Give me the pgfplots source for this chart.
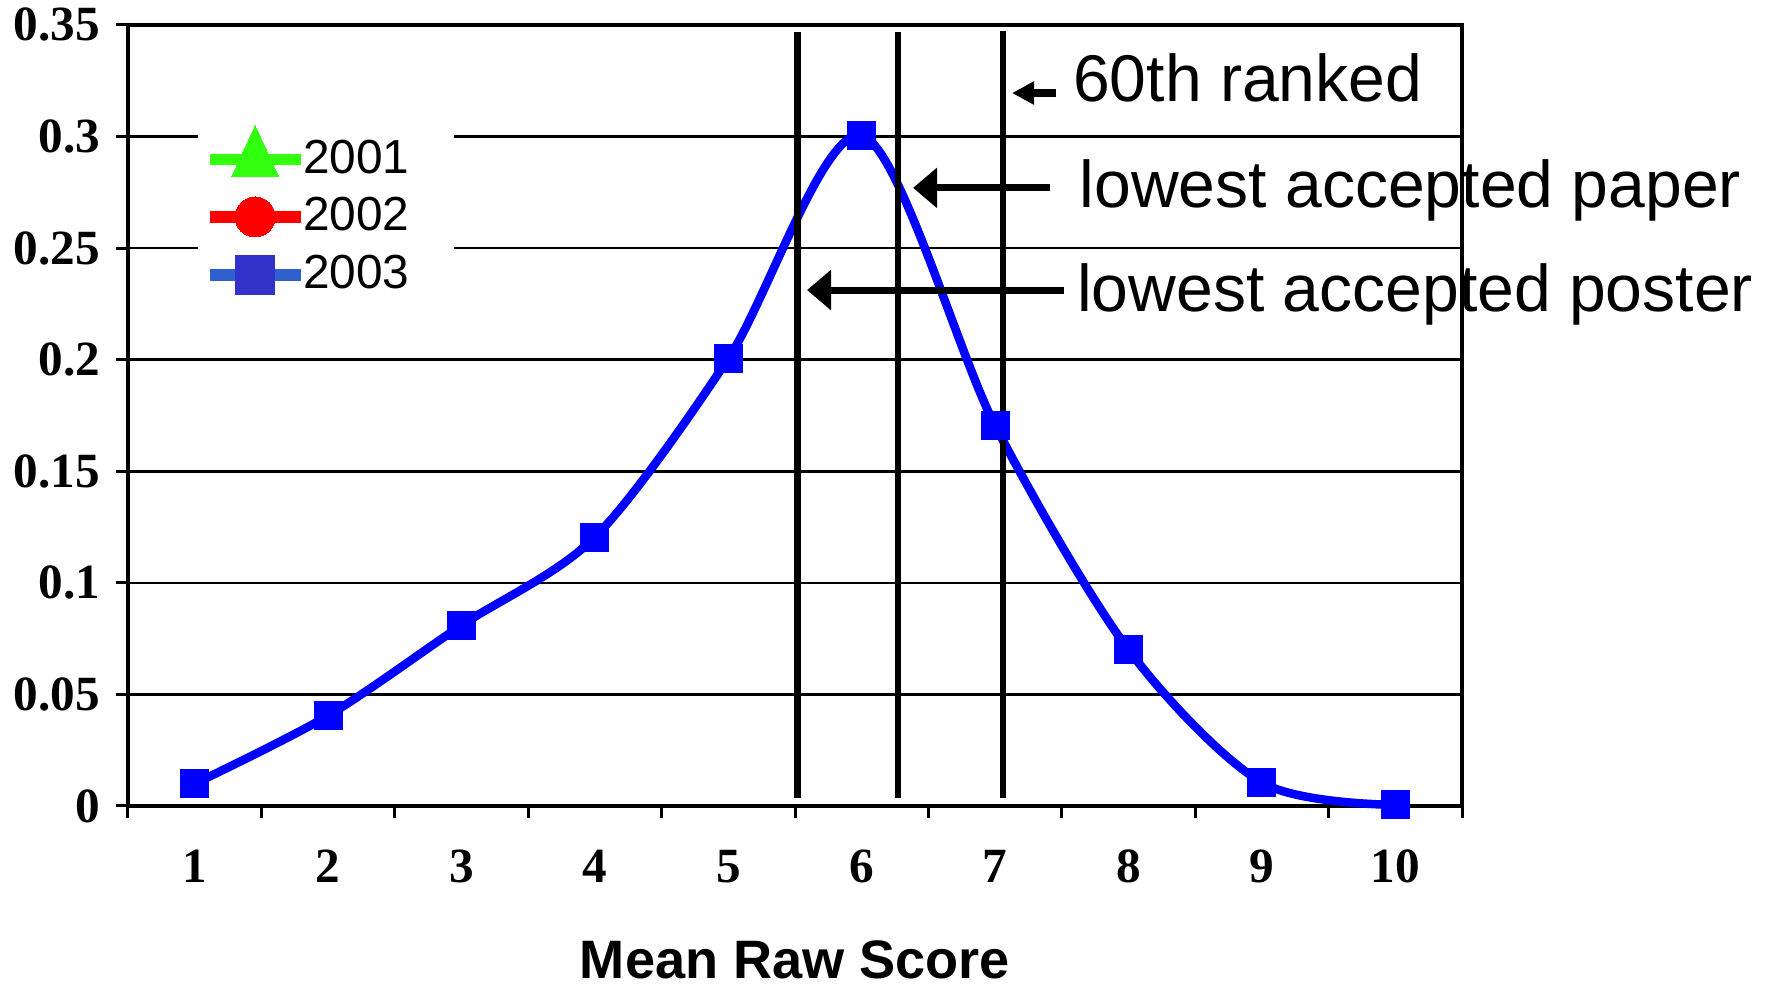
\documentclass[border=0pt]{standalone}
\usepackage{pgfplots}
\pgfplotsset{compat=1.18}
\usepackage{fontspec}
\setmainfont{Liberation Sans}
\newfontfamily\tickfont{Liberation Serif}
\usetikzlibrary{arrows.meta}
\definecolor{gA}{RGB}{51,255,17}
\definecolor{rB}{RGB}{255,0,0}
\definecolor{bline}{RGB}{48,96,208}
\definecolor{bmark}{RGB}{51,51,204}
\begin{document}
\begin{tikzpicture}
\begin{axis}[
  name=ax,
  scale only axis, width=133.4mm, height=78.1mm,
  xmin=0.5, xmax=10.5, ymin=0, ymax=0.35,
  xtick={1,2,3,4,5,6,7,8,9,10},
  xticklabels={1,2,3,4,5,6,7,8,9,10},
  minor xtick={0.5,1.5,2.5,3.5,4.5,5.5,6.5,7.5,8.5,9.5,10.5},
  ytick={0,0.05,0.1,0.15,0.2,0.25,0.3,0.35},
  yticklabels={0,0.05,0.1,0.15,0.2,0.25,0.3,0.35},
  xtick pos=bottom, ytick pos=left,
  tick align=outside, major tick length=1.2mm, minor tick length=1.2mm,
  major x tick style={draw=none},
  tick style={black, line width=0.3mm},
  ymajorgrids, grid style={black, line width=0.25mm},
  axis line style={line width=0.32mm},
  ticklabel style={font=\tickfont\bfseries\fontsize{14}{15}\selectfont},
  yticklabel style={xshift=-0.35mm},
  xticklabel style={anchor=base, yshift=-6.5mm},
  clip=false,
  xlabel={Mean Raw Score},
  xlabel style={font=\bfseries\fontsize{15.4}{16}\selectfont, at={(axis description cs:0.5,0)}, anchor=base, yshift=-17.3mm},
  legend style={at={(rel axis cs:0.0517,0.885)}, anchor=north west, fill=white, draw=none,
    font=\fontsize{13.6}{14}\selectfont, inner xsep=0.6mm, inner ysep=1mm, row sep=1.6mm,
    column sep=0mm, nodes={inner sep=0.15mm}},
  legend cell align=left,
  legend image code/.code={\draw[#1, mark=none] (0mm,0mm) -- (9.1mm,0mm); \draw[#1] plot coordinates {(4.55mm,0mm)};},
]
\addlegendimage{gA, line width=1.1mm, mark=triangle*, mark size=2.7mm, mark options={solid, yscale=1.25, fill=gA, draw=gA, line width=0pt}}
\addlegendentry{\hspace*{-0.5mm}2001\hspace*{3.7mm}}
\addlegendimage{rB, line width=1.2mm, mark=*, mark size=2mm, mark options={solid, fill=rB, draw=rB, line width=0pt}}
\addlegendentry{\hspace*{-0.5mm}2002\hspace*{3.7mm}}
\addlegendimage{bline, line width=1.2mm, mark=square*, mark size=1.95mm, mark options={solid, fill=bmark, draw=bmark, line width=0pt}}
\addlegendentry{\hspace*{-0.5mm}2003\hspace*{3.7mm}}

\addplot[blue, line width=0.85mm, smooth, mark=square*, mark size=1.4mm, mark options={solid, fill=blue, draw=blue, line width=0pt}, forget plot]
  coordinates {(1,0.010)(2,0.0405)(3,0.081)(4,0.1205)(5,0.2005)(6,0.3005)(7,0.1705)(8,0.070)(9,0.0105)(10,0.0005)};

\addplot[black, line width=0.64mm, forget plot] coordinates {(5.52,0.0036)(5.52,0.3469)};
\addplot[black, line width=0.64mm, forget plot] coordinates {(6.27,0.0036)(6.27,0.3469)};
\addplot[black, line width=0.64mm, forget plot] coordinates {(7.06,0.0036)(7.06,0.3475)};

\node[anchor=base west, inner sep=0, font=\fontsize{18.8}{20}\selectfont] at (axis cs:7.58,0.3155) {60th ranked};
\node[anchor=base west, inner sep=0, font=\fontsize{18.8}{20}\selectfont] at (axis cs:7.63,0.2684) {lowest accepted paper};
\node[anchor=base west, inner sep=0, font=\fontsize{18.8}{20}\selectfont] at (axis cs:7.61,0.2214) {lowest accepted poster};

\draw[line width=0.75mm, -{Triangle[length=2.2mm,width=2.2mm]}] (axis cs:7.46,0.3195) -- (axis cs:7.127,0.3195);
\draw[line width=0.7mm, -{Triangle[length=2.4mm,width=3.9mm]}] (axis cs:7.41,0.2770) -- (axis cs:6.385,0.2770);
\draw[line width=0.7mm, -{Triangle[length=2.4mm,width=3.9mm]}] (axis cs:7.52,0.2312) -- (axis cs:5.59,0.2312);
\end{axis}
\pgfresetboundingbox
\path[use as bounding box] ([xshift=-12.8mm,yshift=-17.9mm]ax.south west) rectangle ([xshift=31.1mm,yshift=2.5mm]ax.north east);
\end{tikzpicture}
\end{document}
